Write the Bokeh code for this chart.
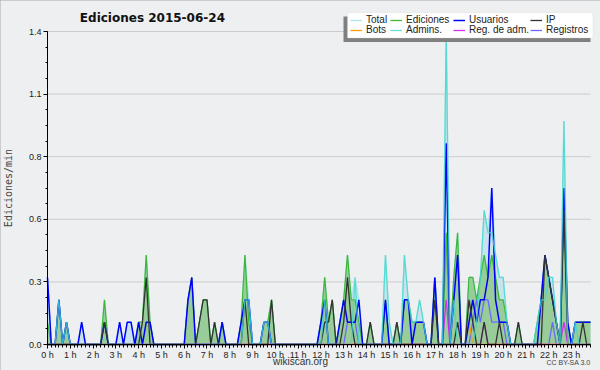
from bokeh.plotting import figure
from bokeh.models import (FixedTicker, Legend, LegendItem, Label, Range1d,
                          PrintfTickFormatter, BoxAnnotation)
from bokeh.embed import file_html
from bokeh.resources import INLINE
import numpy as np

# 10-minute bins over the day (minutes after midnight)
minutes = list(range(0, 1440, 10))

total = [
    0.3, 0, 0, 0.2, 0, 0.1, 0, 0, 0, 0.1, 0, 0,
    0, 0, 0, 0.2, 0, 0, 0, 0.1, 0, 0.1, 0.1, 0,
    0.1, 0.1, 0.4, 0.1, 0, 0, 0, 0, 0, 0, 0, 0,
    0, 0.2, 0.3, 0, 0.1, 0.2, 0.2, 0, 0.1, 0, 0.1, 0,
    0, 0, 0, 0.1, 0.4, 0.2, 0, 0, 0, 0.1, 0.1, 0.2,
    0, 0, 0, 0, 0, 0, 0, 0, 0, 0, 0, 0,
    0.1, 0.3, 0.1, 0.2, 0, 0.1, 0.2, 0.4, 0.2, 0.3, 0.2, 0,
    0, 0.1, 0, 0, 0, 0.4, 0.1, 0, 0.1, 0, 0.4, 0.2,
    0.1, 0.1, 0.2, 0.1, 0, 0, 0.3, 0, 0, 1.4, 0, 0.3,
    0.5, 0, 0, 0.3, 0.3, 0.2, 0.3, 0.6, 0.5, 0.7, 0.4, 0.3,
    0.3, 0.1, 0, 0, 0.1, 0, 0, 0, 0, 0.1, 0.2, 0.4,
    0.3, 0.3, 0.1, 0, 1.0, 0.1, 0, 0.1, 0.1, 0.1, 0.1, 0.1,
]
ediciones = [
    0.1, 0, 0, 0.2, 0, 0.1, 0, 0, 0, 0, 0, 0,
    0, 0, 0, 0.2, 0, 0, 0, 0, 0, 0, 0, 0,
    0.1, 0.1, 0.4, 0.1, 0, 0, 0, 0, 0, 0, 0, 0,
    0, 0.2, 0.3, 0, 0.1, 0.2, 0.2, 0, 0.1, 0, 0.1, 0,
    0, 0, 0, 0.1, 0.4, 0.1, 0, 0, 0, 0.1, 0.1, 0.2,
    0, 0, 0, 0, 0, 0, 0, 0, 0, 0, 0, 0,
    0.1, 0.3, 0.1, 0.2, 0, 0.1, 0.2, 0.4, 0.2, 0.2, 0.1, 0,
    0, 0.1, 0, 0, 0, 0.2, 0, 0, 0.1, 0, 0.2, 0.2,
    0.1, 0.1, 0.1, 0.1, 0, 0, 0.3, 0, 0, 0.5, 0, 0.3,
    0.5, 0, 0, 0.3, 0.3, 0.2, 0.3, 0.4, 0.3, 0.4, 0.3, 0.2,
    0.2, 0.1, 0, 0, 0.1, 0, 0, 0, 0, 0.1, 0.2, 0.4,
    0.3, 0.2, 0.1, 0, 0.6, 0.1, 0, 0.1, 0.1, 0.1, 0.1, 0.1,
]
usuarios = [
    0.3, 0, 0, 0.2, 0, 0.1, 0, 0, 0, 0.1, 0, 0,
    0, 0, 0, 0.1, 0, 0, 0, 0.1, 0, 0.1, 0.1, 0,
    0.1, 0, 0.1, 0.1, 0, 0, 0, 0, 0, 0, 0, 0,
    0, 0.2, 0.3, 0, 0, 0, 0, 0, 0, 0, 0.1, 0,
    0, 0, 0, 0.1, 0.2, 0.2, 0, 0, 0, 0.1, 0.1, 0,
    0, 0, 0, 0, 0, 0, 0, 0, 0, 0, 0, 0,
    0.1, 0.2, 0, 0, 0, 0.1, 0.2, 0.1, 0.1, 0.1, 0.2, 0,
    0, 0, 0, 0, 0, 0.2, 0, 0, 0, 0, 0.2, 0.2,
    0, 0.1, 0.1, 0.1, 0, 0, 0.3, 0, 0, 0.9, 0, 0.2,
    0.4, 0, 0, 0.1, 0.2, 0.1, 0.2, 0.2, 0.3, 0.7, 0.2, 0.1,
    0.1, 0.1, 0, 0, 0, 0, 0, 0, 0, 0, 0.2, 0.4,
    0.3, 0.2, 0.1, 0, 0.7, 0.1, 0, 0.1, 0.1, 0.1, 0.1, 0.1,
]
ip = [
    0, 0, 0, 0, 0, 0, 0, 0, 0, 0, 0, 0,
    0, 0, 0, 0.1, 0, 0, 0, 0, 0, 0, 0, 0,
    0, 0.1, 0.3, 0, 0, 0, 0, 0, 0, 0, 0, 0,
    0, 0, 0, 0, 0.1, 0.2, 0.2, 0, 0.1, 0, 0, 0,
    0, 0, 0, 0, 0.2, 0, 0, 0, 0, 0, 0, 0.2,
    0, 0, 0, 0, 0, 0, 0, 0, 0, 0, 0, 0,
    0, 0.1, 0.1, 0.2, 0, 0, 0.1, 0.3, 0.1, 0, 0, 0,
    0, 0.1, 0, 0, 0, 0, 0, 0, 0.1, 0, 0, 0,
    0, 0, 0, 0, 0, 0, 0.2, 0, 0, 0, 0, 0,
    0.1, 0, 0, 0.2, 0.1, 0, 0, 0.1, 0, 0, 0, 0.1,
    0, 0, 0, 0, 0.1, 0, 0, 0, 0, 0, 0, 0.4,
    0.3, 0.2, 0.1, 0, 0.6, 0, 0, 0, 0, 0.1, 0, 0,
]
bots = [
    0, 0, 0, 0, 0, 0, 0, 0, 0, 0, 0, 0,
    0, 0, 0, 0, 0, 0, 0, 0, 0, 0, 0, 0,
    0, 0, 0, 0, 0, 0, 0, 0, 0, 0, 0, 0,
    0, 0, 0, 0, 0, 0, 0, 0, 0, 0, 0, 0,
    0, 0, 0, 0, 0, 0, 0, 0, 0, 0, 0, 0,
    0, 0, 0, 0, 0, 0, 0, 0, 0, 0, 0, 0,
    0, 0, 0, 0, 0, 0, 0, 0, 0, 0, 0, 0,
    0, 0, 0, 0, 0, 0, 0, 0, 0, 0, 0, 0,
    0, 0, 0, 0, 0, 0, 0, 0, 0, 0, 0, 0,
    0, 0, 0, 0.1, 0, 0, 0, 0, 0, 0, 0, 0,
    0, 0, 0, 0, 0, 0, 0, 0, 0, 0, 0, 0,
    0, 0, 0, 0, 0, 0, 0, 0, 0, 0, 0, 0,
]
admins = [
    0, 0, 0, 0.2, 0, 0.1, 0, 0, 0, 0, 0, 0,
    0, 0, 0, 0, 0, 0, 0, 0, 0, 0, 0, 0,
    0, 0, 0, 0, 0, 0, 0, 0, 0, 0, 0, 0,
    0, 0, 0, 0, 0, 0, 0, 0, 0, 0, 0, 0,
    0, 0, 0, 0, 0.2, 0.2, 0, 0, 0, 0.1, 0.1, 0,
    0, 0, 0, 0, 0, 0, 0, 0, 0, 0, 0, 0,
    0, 0.2, 0, 0, 0, 0, 0, 0, 0, 0.3, 0, 0,
    0, 0, 0, 0, 0, 0.4, 0.1, 0, 0, 0, 0.4, 0.2,
    0.1, 0.1, 0.2, 0.1, 0, 0, 0, 0, 0, 1.4, 0, 0.2,
    0, 0, 0, 0, 0, 0.1, 0.3, 0.6, 0.5, 0.5, 0.4, 0.3,
    0.3, 0.1, 0, 0, 0, 0, 0, 0, 0, 0.1, 0.2, 0.2,
    0.3, 0.3, 0.1, 0, 1.0, 0, 0, 0.1, 0, 0, 0, 0,
]
reg_adm = [
    0, 0, 0, 0, 0, 0, 0, 0, 0, 0, 0, 0,
    0, 0, 0, 0, 0, 0, 0, 0, 0, 0, 0, 0,
    0, 0, 0, 0, 0, 0, 0, 0, 0, 0, 0, 0,
    0, 0, 0, 0, 0, 0, 0, 0, 0, 0, 0, 0,
    0, 0, 0, 0, 0, 0, 0, 0, 0, 0, 0, 0,
    0, 0, 0, 0, 0, 0, 0, 0, 0, 0, 0, 0,
    0, 0, 0, 0, 0, 0, 0, 0, 0, 0, 0, 0,
    0, 0, 0, 0, 0, 0, 0, 0, 0, 0, 0, 0,
    0, 0, 0, 0, 0, 0, 0, 0, 0, 0.2, 0, 0,
    0, 0, 0, 0, 0, 0, 0, 0.1, 0, 0, 0, 0,
    0, 0, 0, 0, 0, 0, 0, 0, 0, 0, 0, 0,
    0, 0, 0, 0, 0.1, 0, 0, 0, 0, 0, 0, 0,
]
registros = [
    0, 0, 0, 0, 0, 0, 0, 0, 0, 0, 0, 0,
    0, 0, 0, 0, 0, 0, 0, 0, 0, 0, 0, 0,
    0, 0, 0, 0, 0, 0, 0, 0, 0, 0, 0, 0,
    0, 0, 0, 0, 0, 0, 0, 0, 0, 0, 0, 0,
    0, 0, 0, 0, 0, 0, 0, 0, 0, 0, 0, 0,
    0, 0, 0, 0, 0, 0, 0, 0, 0, 0, 0, 0,
    0, 0, 0, 0, 0, 0, 0, 0.1, 0.1, 0.1, 0, 0,
    0, 0, 0, 0, 0, 0, 0, 0, 0, 0, 0, 0,
    0, 0, 0, 0, 0, 0, 0, 0, 0, 0, 0, 0,
    0, 0, 0, 0, 0.1, 0.2, 0.1, 0.2, 0.2, 0.1, 0.1, 0.1,
    0.1, 0, 0, 0, 0, 0, 0, 0, 0, 0, 0, 0,
    0, 0.1, 0, 0, 0, 0, 0, 0, 0, 0, 0, 0,
]

series_labels = ["Total", "Ediciones", "Usuarios", "IP",
                 "Bots", "Admins.", "Reg. de adm.", "Registros"]
hour_labels = [f"{h} h" for h in range(24)]
title_text = "Ediciones  2015-06-24"
y_label = "Ediciones/min"
y_max = 1.4

hours = [m / 60 for m in minutes]
BG = "#eeeff1"

# layout constants (pixels, from the top-left of the canvas)
W, H = 600, 370
LEFT, RIGHT_PX = 47, 590          # where 0 h and the last bin fall
TOP_PX, ZERO_PX = 31, 344         # where y_max and 0 fall
pxh = (RIGHT_PX - LEFT) / hours[-1]
pxu = (ZERO_PX - TOP_PX) / y_max


def xd(px):
    return (px - LEFT) / pxh


def yd(py):
    return (ZERO_PX - py) / pxu


p = figure(width=W, height=H, output_backend="svg", toolbar_location=None,
           x_range=Range1d(xd(0), xd(W)), y_range=Range1d(yd(H), yd(0)),
           min_border=0, background_fill_color=BG,
           border_fill_color=BG, outline_line_color=None)
p.styles = {"outline": "1px solid #a9a9a9", "outline-offset": "-1px"}

# horizontal grid lines at the y ticks, limited to the plot area
yt = list(np.linspace(0, y_max, 6))
p.segment(x0=[0] * len(yt), x1=[hours[-1]] * len(yt), y0=yt, y1=yt,
          line_color="#cccccc", line_width=1)

# fills
p.varea(x=hours, y1=0, y2=total, fill_color="#c9e3ee")
p.varea(x=hours, y1=0, y2=ediciones, fill_color="#98cc98")

lw = 1.3
r_total = p.line(hours, total, line_color="#ade6e6", line_width=lw)
r_ed = p.line(hours, ediciones, line_color="#3db83d", line_width=lw)
r_reg = p.line(hours, registros, line_color="#6a6aff", line_width=lw)
r_radm = p.line(hours, reg_adm, line_color="#cc33ee", line_width=lw)
r_bots = p.line(hours, bots, line_color="#ff9900", line_width=lw)
r_us = p.line(hours, usuarios, line_color="#0000ff", line_width=1.5)
r_ip = p.line(hours, ip, line_color="#333333", line_width=lw)
r_adm = p.line(hours, admins, line_color="#40d8d0", line_width=lw, line_alpha=0.8)

# axes, pinned at the data origin
p.yaxis.ticker = FixedTicker(ticks=yt,
                             minor_ticks=list(np.linspace(0, y_max, 21)))
p.yaxis.formatter = PrintfTickFormatter(format="%.1f")
p.yaxis.bounds = (0, y_max)
p.yaxis.fixed_location = 0
p.xaxis.ticker = FixedTicker(ticks=list(range(24)), minor_ticks=hours)
p.xaxis.major_label_overrides = {h: hour_labels[h] for h in range(24)}
p.xaxis.bounds = (0, hours[-1])
p.xaxis.fixed_location = 0

for ax in (p.xaxis[0], p.yaxis[0]):
    ax.axis_line_color = "black"
    ax.major_tick_line_color = "black"
    ax.minor_tick_line_color = "black"
    ax.major_tick_in = 0
    ax.minor_tick_in = 0
    ax.major_tick_out = 4
    ax.minor_tick_out = 3
    ax.major_label_text_font = "Liberation Sans"
    ax.major_label_text_font_size = "9px"
    ax.major_label_text_color = "#222222"
    ax.major_label_standoff = 2
p.yaxis.minor_tick_out = 2
p.yaxis.axis_label = y_label
p.yaxis.axis_label_text_font = "DejaVu Sans Mono"
p.yaxis.axis_label_text_font_style = "normal"
p.yaxis.axis_label_text_font_size = "10px"
p.yaxis.axis_label_standoff = 12
p.xaxis.major_label_standoff = 1

p.xgrid.visible = False
p.ygrid.visible = False

# texts (screen units from the canvas' bottom-left)
p.add_layout(Label(x=154, y=H - 17, x_units="screen", y_units="screen",
                   text=title_text, text_font="DejaVu Sans",
                   text_font_style="bold", text_font_size="12px",
                   text_align="center", text_baseline="middle",
                   text_color="#111111"))
p.add_layout(Label(x=300, y=H - 361, x_units="screen", y_units="screen",
                   text="wikiscan.org", text_font="Liberation Sans",
                   text_font_size="10px", text_align="center",
                   text_baseline="middle", text_color="#333333"))
p.add_layout(Label(x=590, y=H - 362, x_units="screen", y_units="screen",
                   text="CC BY-SA 3.0", text_font="Liberation Sans",
                   text_font_size="7px", text_align="right",
                   text_baseline="middle", text_color="#444444"))

# legend: shadow, white box, then one entry per cell of a 2 x 4 grid
p.add_layout(BoxAnnotation(left=xd(343), right=xd(590), top=yd(16), bottom=yd(41.5),
                           fill_color="#808080", fill_alpha=1, line_color=None))
p.add_layout(BoxAnnotation(left=xd(347), right=xd(592.5), top=yd(12), bottom=yd(37.5),
                           fill_color="white", fill_alpha=1, line_color="#cfcfcf",
                           line_width=1))

line_renderers = [r_total, r_ed, r_us, r_ip, r_bots, r_adm, r_radm, r_reg]
col_px = [350, 390, 453, 530]
row_center_px = [19.5, 29.5]
item_h = 12
for i, (lab, r) in enumerate(zip(series_labels, line_renderers)):
    row, col = divmod(i, 4)
    lg = Legend(items=[LegendItem(label=lab, renderers=[r])],
                location=(col_px[col], H - (row_center_px[row] + item_h / 2)),
                orientation="vertical", background_fill_alpha=0,
                border_line_color=None, padding=0, spacing=0, margin=0,
                glyph_width=12, glyph_height=item_h, label_height=item_h,
                label_standoff=4, label_text_font="Liberation Sans",
                label_text_font_size="10px", label_text_color="#222222")
    p.add_layout(lg, "center")

open("out.html", "w").write(file_html(p, INLINE))
